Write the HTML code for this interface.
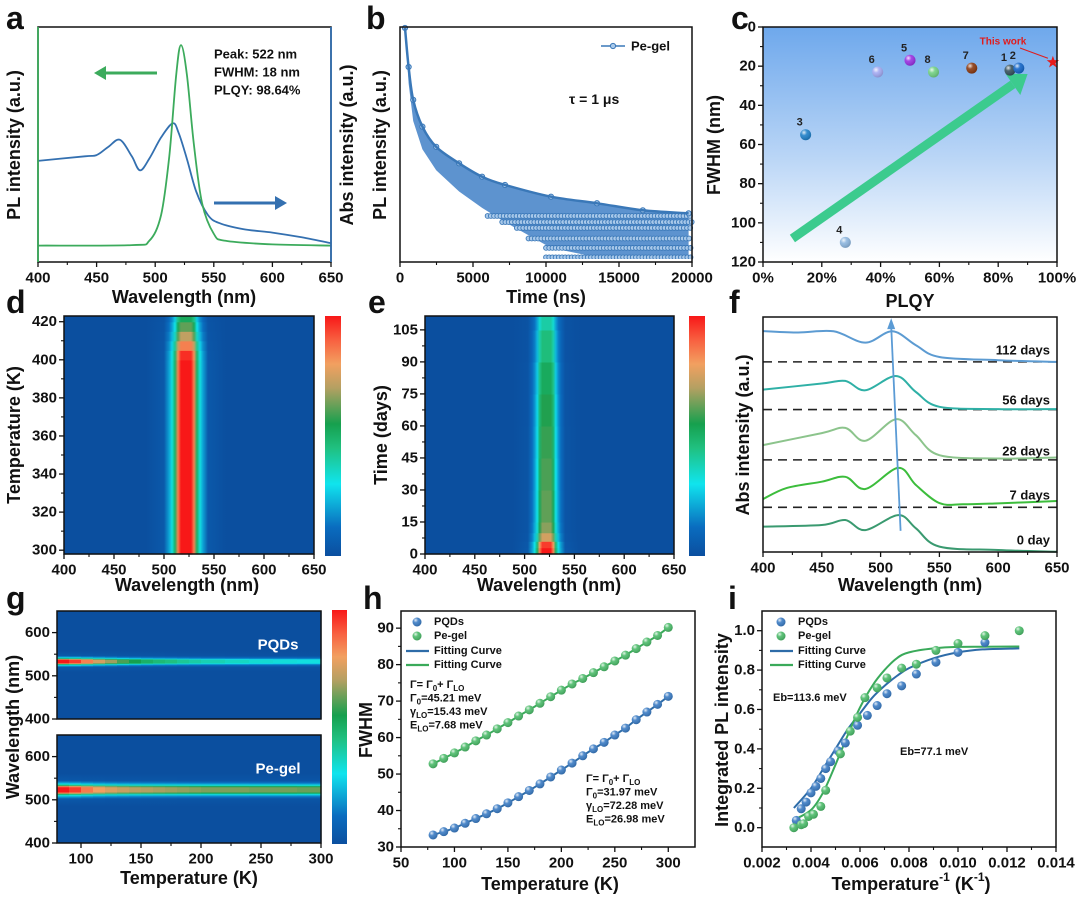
<!DOCTYPE html>
<html><head><meta charset="utf-8"><style>
html,body{margin:0;padding:0;background:#fff;}
svg{display:block;font-family:"Liberation Sans",Arial,sans-serif;}
</style></head><body>
<svg id="fig" width="1080" height="898" viewBox="0 0 1080 898" xmlns="http://www.w3.org/2000/svg">
<defs>
<linearGradient id="cbg" x1="0" y1="0" x2="0" y2="1"><stop offset="0" stop-color="#6ea8ec"/><stop offset="0.55" stop-color="#b9d5f6"/><stop offset="1" stop-color="#ffffff"/></linearGradient>
<radialGradient id="shine" cx="0.35" cy="0.3" r="0.7"><stop offset="0" stop-color="#fff" stop-opacity="0.85"/><stop offset="0.4" stop-color="#fff" stop-opacity="0.1"/><stop offset="1" stop-color="#000" stop-opacity="0.15"/></radialGradient>
</defs>
</svg>
<script>
// ---------- DATA ----------
// panel a
const aAbsWl = [400,440,450,460,470,480,487,495,505,515,520,527,535,545,555,575,600,625,650];
const aAbsVal = [0.43,0.45,0.455,0.49,0.52,0.45,0.39,0.44,0.53,0.59,0.55,0.44,0.30,0.20,0.165,0.14,0.125,0.105,0.08];
const aPlWl = [400,480,495,505,512,518,522,527,533,540,550,560,600,650];
const aPlVal = [0.07,0.072,0.09,0.2,0.45,0.8,0.923,0.8,0.5,0.25,0.12,0.09,0.075,0.07];
const aXTicks = [400,450,500,550,600,650];
// panel b
const bTimes = [340,590,905,1535,2480,4050,5620,7190,10340,13490,16630,19770];
const bUpper = [0.996,0.83,0.69,0.576,0.49,0.42,0.363,0.328,0.278,0.25,0.22,0.207];
const bLower = [0.99,0.76,0.6,0.48,0.39,0.3,0.23,0.17,0.06,0.02,0.02,0.02];
const bTailLevels = [0.196,0.17,0.145,0.1,0.06,0.02];
const bTailStart = [6000,7000,8000,8800,10000,10000];
const bXTicks = [0,5000,10000,15000,20000];
// panel c
const cLabels = ['1','2','3','4','5','6','7','8'];
const cPlqy = [84,87,14.5,28,50,39,71,58];
const cFwhm = [22,21,55,110,17,23,21,23];
const cColors = ['#36525e','#1466c8','#1f80c8','#8db6de','#9a32e2','#a4aaf2','#8a3a12','#72d084'];
const cThisWork = [98.6,18];
const cArrow = [[10,108],[90,24]];
const cXTicks = [0,20,40,60,80,100];
const cYTicks = [0,20,40,60,80,100,120];
// panel d
const dTemps = [298,310,320,330,340,350,360,370,380,390,395,400,405,410,415,420,423];
const dPeak = [1,1,1,1,1,1,1,1,1,1,1,0.97,0.85,0.72,0.62,0.52,0.45];
const dYTicks = [300,320,340,360,380,400,420];
// panel e
const eDays = [0,3,6,10,15,30,45,60,75,90,105,111.5];
const ePeak = [1,0.95,0.75,0.66,0.62,0.6,0.58,0.56,0.52,0.46,0.4,0.38];
const eYTicks = [0,15,30,45,60,75,90,105];
// shared spectral profile (offset nm -> relative intensity)
const profOff = [-40,-22,-17,-14,-11,-8,-5,0,5,8,11,14,17,22,40];
const profVal = [0,0.04,0.2,0.32,0.5,0.85,1,1,1,0.85,0.5,0.32,0.2,0.04,0];
// panel f
const fSeriesNames = ['0 day','7 days','28 days','56 days','112 days'];
const fWl0 = [400,450,470,487,515,530,550,600,650];
const fV0 = [10.8,11.5,13.6,9.3,15.7,10.1,2.3,0.85,0.1];
const fWl7 = [400,420,450,470,487,515,530,550,570,600,650];
const fV7 = [22.5,27.2,29.9,32,26.8,35.8,28.5,20.8,20.3,20.7,21.7];
const fWl28 = [400,450,470,487,513,530,550,600,650];
const fV28 = [45.5,50.6,52.8,47.3,56.5,49.7,41.2,39.8,40.2];
const fWl56 = [400,450,470,487,513,530,550,600,650];
const fV56 = [69.1,71.7,72.8,68.8,74.9,68.1,61.8,60.8,60.8];
const fWl112 = [400,430,460,487,510,530,550,600,650];
const fV112 = [94,93.4,93.9,89.1,93.9,88,83,81.6,80.9];
const fBaselines = [19,39.2,60.6,80.9];
const fColors = ['#3a9a70','#3cbd3c','#8cc48c','#2fb0a6','#5c9bd2'];
const fArrow = [[517,9],[509,99.5]];
// panel g
const gTemps = [80,90,100,110,120,130,140,150,160,170,180,190,200,220,240,260,280,300];
const gPqdPeak = [1,0.95,0.85,0.75,0.68,0.6,0.55,0.5,0.47,0.45,0.42,0.4,0.38,0.36,0.34,0.33,0.32,0.32];
const gGelPeak = [1,0.95,0.86,0.8,0.76,0.73,0.71,0.7,0.69,0.68,0.67,0.66,0.65,0.65,0.64,0.64,0.63,0.63];
const gXTicks = [100,150,200,250,300];
// panel h
const hTemps = [80,90,100,110,120,130,140,150,160,170,180,190,200,210,220,230,240,250,260,270,280,290,300];
const hPqd = [33.3,34.2,35.2,36.5,37.8,39.1,40.5,42.1,43.8,45.5,47.3,49.2,51.1,53.0,55.0,56.9,58.7,60.7,62.6,64.9,67.0,69.1,71.3];
const hGel = [52.8,54.3,55.8,57.4,59.1,60.7,62.4,64.1,65.9,67.6,69.4,71.2,73.0,74.7,76.2,77.8,79.4,81.0,82.6,84.4,86.2,88.0,90.2];
const hXTicks = [50,100,150,200,250,300];
const hYTicks = [30,40,50,60,70,80,90];
// panel i
const iPqdX = [0.0034,0.0036,0.0038,0.004,0.0042,0.0044,0.0046,0.0048,0.0051,0.0054,0.0059,0.0063,0.0067,0.0071,0.0077,0.0083,0.0091,0.01,0.0111];
const iPqdY = [0.037,0.096,0.13,0.177,0.21,0.25,0.30,0.335,0.39,0.43,0.52,0.57,0.62,0.68,0.72,0.78,0.84,0.89,0.94];
const iGelX = [0.0033,0.0036,0.0037,0.0039,0.0041,0.0044,0.0046,0.0052,0.0056,0.0059,0.0062,0.0067,0.0071,0.0077,0.0083,0.0091,0.01,0.0111,0.0125];
const iGelY = [0.0,0.015,0.02,0.057,0.068,0.108,0.19,0.375,0.49,0.56,0.66,0.71,0.76,0.81,0.83,0.90,0.935,0.975,1.0];
const iFitX = [0.0033,0.004,0.0045,0.005,0.0055,0.006,0.0065,0.007,0.0075,0.008,0.009,0.01,0.011,0.0125];
const iFitPqd = [0.10,0.2,0.3,0.4,0.5,0.58,0.66,0.72,0.77,0.81,0.86,0.89,0.905,0.91];
const iFitGel = [0.04,0.09,0.18,0.32,0.47,0.61,0.72,0.80,0.86,0.89,0.91,0.918,0.919,0.92];
const iXTicks = [0.002,0.004,0.006,0.008,0.010,0.012,0.014];
const iYTicks = [0.0,0.2,0.4,0.6,0.8,1.0];
// colormap stops
const cmapPos = [0,0.12,0.3,0.45,0.55,0.7,0.8,0.9,1];
const cmapCol = ['#0b4f9f','#0a6cbf','#10e4ee','#20c080','#16a04e','#b4a062','#f2a060','#f86040','#f81818'];

// ---------- HELPERS ----------
const NS='http://www.w3.org/2000/svg';
const svg=document.getElementById('fig');
const defs=svg.querySelector('defs');
function el(tag,attrs,name,parent){
  const e=document.createElementNS(NS,tag);
  for(const k in attrs) e.setAttribute(k,attrs[k]);
  
  
  (parent||svg).appendChild(e);
  return e;
}
function txt(x,y,s,o,name,parent){
  o=o||{};
  const a={x:x,y:y,'font-size':o.size||15,'font-weight':o.weight||'bold',fill:o.fill||'#111','text-anchor':o.anchor||'middle','dominant-baseline':'central'};
  if(o.rot){a.transform='rotate('+o.rot+' '+x+' '+y+')';}
  const t=el('text',a,name,parent);
  t.textContent=s;
  return t;
}
function lin(d0,d1,r0,r1){return v=>r0+(v-d0)/(d1-d0)*(r1-r0);}
function smooth(pts){
  let d='M'+pts[0][0].toFixed(1)+','+pts[0][1].toFixed(1);
  for(let i=0;i<pts.length-1;i++){
    const p0=pts[i-1]||pts[i],p1=pts[i],p2=pts[i+1],p3=pts[i+2]||p2;
    const c1=[p1[0]+(p2[0]-p0[0])/6,p1[1]+(p2[1]-p0[1])/6];
    const c2=[p2[0]-(p3[0]-p1[0])/6,p2[1]-(p3[1]-p1[1])/6];
    d+=' C'+c1[0].toFixed(1)+','+c1[1].toFixed(1)+' '+c2[0].toFixed(1)+','+c2[1].toFixed(1)+' '+p2[0].toFixed(1)+','+p2[1].toFixed(1);
  }
  return d;
}
function hex(c){return [parseInt(c.slice(1,3),16),parseInt(c.slice(3,5),16),parseInt(c.slice(5,7),16)];}
function cmap(v){
  v=Math.max(0,Math.min(1,v));
  for(let i=0;i<cmapPos.length-1;i++){
    if(v<=cmapPos[i+1]){
      const t=(v-cmapPos[i])/(cmapPos[i+1]-cmapPos[i]);
      const a=hex(cmapCol[i]),b=hex(cmapCol[i+1]);
      return 'rgb('+a.map((x,j)=>Math.round(x+(b[j]-x)*t)).join(',')+')';
    }
  }
  return cmapCol[cmapCol.length-1];
}
let gid=0;
function profileGradient(horizontal,center,scale,peak,pos){
  const id='pg'+(gid++);
  const g=el('linearGradient',{id:id,gradientUnits:'userSpaceOnUse',x1:horizontal?pos(center-60):0,x2:horizontal?pos(center+60):0,y1:horizontal?0:pos(center-60),y2:horizontal?0:pos(center+60)},'profile-gradient',defs);
  for(let i=0;i<profOff.length;i++){
    const o=(profOff[i]*scale+60)/120;
    el('stop',{offset:o.toFixed(4),'stop-color':cmap(peak*profVal[i])},'gradient-stop',g);
  }
  return 'url(#'+id+')';
}
function frame(b,name){el('rect',{x:b.x0,y:b.y0,width:b.x1-b.x0,height:b.y1-b.y0,fill:'none',stroke:'#111','stroke-width':1.5},name);}
function xAxis(b,sx,ticks,fmt,minor,name){
  ticks.forEach((t,i)=>{
    const x=sx(t);
    el('line',{x1:x,x2:x,y1:b.y1,y2:b.y1+5,stroke:'#111','stroke-width':1.3},name+'-tick');
    txt(x,b.y1+16,fmt?fmt(t):String(t),{size:15},name+'-label');
    if(minor&&i<ticks.length-1){const xm=sx((t+ticks[i+1])/2);el('line',{x1:xm,x2:xm,y1:b.y1,y2:b.y1+3,stroke:'#111','stroke-width':1.1},name+'-minor-tick');}
  });
}
function yAxis(b,sy,ticks,fmt,minor,name){
  ticks.forEach((t,i)=>{
    const y=sy(t);
    el('line',{x1:b.x0-5,x2:b.x0,y1:y,y2:y,stroke:'#111','stroke-width':1.3},name+'-tick');
    txt(b.x0-7,y,fmt?fmt(t):String(t),{size:15,anchor:'end'},name+'-label');
    if(minor&&i<ticks.length-1){const ym=sy((t+ticks[i+1])/2);el('line',{x1:b.x0-3,x2:b.x0,y1:ym,y2:ym,stroke:'#111','stroke-width':1.1},name+'-minor-tick');}
  });
}
function ball(x,y,r,col,name){
  el('circle',{cx:x,cy:y,r:r,fill:col},name);
  el('circle',{cx:x,cy:y,r:r,fill:'url(#shine)'},name+'-highlight');
}
function letter(x,y,s){txt(x,y,s,{size:32,anchor:'start'},'panel-label-'+s);}

// ---------- PANEL A ----------
(function(){
  const b={x0:38,x1:331,y0:27,y1:262};
  const sx=lin(400,650,b.x0,b.x1), sy=lin(0,1,b.y1,b.y0);
  el('path',{d:smooth(aAbsWl.map((w,i)=>[sx(w),sy(aAbsVal[i])])),fill:'none',stroke:'#3470b0','stroke-width':1.8},'abs-curve');
  el('path',{d:smooth(aPlWl.map((w,i)=>[sx(w),sy(aPlVal[i])])),fill:'none',stroke:'#3cab5c','stroke-width':1.8},'pl-curve');
  frame(b,'panel-a-frame');
  el('line',{x1:b.x0,x2:b.x0,y1:b.y0,y2:b.y1,stroke:'#3cab5c','stroke-width':1.8},'left-axis-green');
  el('line',{x1:b.x1,x2:b.x1,y1:b.y0,y2:b.y1,stroke:'#3470b0','stroke-width':1.8},'right-axis-blue');
  xAxis(b,sx,aXTicks,null,true,'a-x-axis');
  txt(184,297,'Wavelength (nm)',{size:18},'a-x-title');
  txt(14,145,'PL intensity (a.u.)',{size:18,rot:-90},'a-y-title-left');
  txt(347,145,'Abs intensity (a.u.)',{size:18,rot:-90},'a-y-title-right');
  el('line',{x1:157,y1:73,x2:104,y2:73,stroke:'#3cab5c','stroke-width':3},'pl-arrow-shaft');
  el('polygon',{points:'94,73 106,66 106,80',fill:'#3cab5c'},'pl-arrow-head');
  el('line',{x1:214,y1:203,x2:277,y2:203,stroke:'#3470b0','stroke-width':3},'abs-arrow-shaft');
  el('polygon',{points:'287,203 275,196 275,210',fill:'#3470b0'},'abs-arrow-head');
  txt(214,54,'Peak: 522 nm',{size:13,anchor:'start'},'peak-annotation');
  txt(214,72,'FWHM: 18 nm',{size:13,anchor:'start'},'fwhm-annotation');
  txt(214,90,'PLQY: 98.64%',{size:13,anchor:'start'},'plqy-annotation');
  letter(6,18,'a');
})();

// ---------- PANEL B ----------
(function(){
  const b={x0:400,x1:692,y0:27,y1:262};
  const sx=lin(0,20000,b.x0,b.x1), sy=lin(0,1,b.y1,b.y0);
  const up=bTimes.map((t,i)=>[sx(t),sy(bUpper[i])]);
  const lo=bTimes.map((t,i)=>[sx(t),sy(bLower[i])]).reverse();
  el('path',{d:smooth(up)+' L'+lo.map(p=>p[0].toFixed(1)+','+p[1].toFixed(1)).join(' L')+' Z',fill:'#5d93cf'},'decay-band');
  bTailLevels.forEach((lv,k)=>{
    for(let t=bTailStart[k];t<=20000;t+=220){
      el('circle',{cx:sx(t),cy:sy(lv),r:2.4,fill:'#a9c9ea',stroke:'#3a78b8','stroke-width':0.9},'tail-marker');
    }
  });
  bTimes.forEach((t,i)=>{
    el('circle',{cx:sx(t),cy:sy(bUpper[i]),r:2.6,fill:'#a9c9ea',stroke:'#3a78b8','stroke-width':1},'decay-marker');
  });
  el('path',{d:smooth(up),fill:'none',stroke:'#3a78b8','stroke-width':2.5},'decay-envelope');
  el('rect',{x:b.x0,y:b.y1-3,width:b.x1-b.x0,height:3,fill:'#fff'},'axis-mask');
  frame(b,'panel-b-frame');
  xAxis(b,sx,bXTicks,null,true,'b-x-axis');
  txt(546,297,'Time (ns)',{size:18},'b-x-title');
  txt(380,145,'PL intensity (a.u.)',{size:18,rot:-90},'b-y-title');
  el('line',{x1:601,x2:625,y1:46,y2:46,stroke:'#3a78b8','stroke-width':1.5},'legend-line');
  el('circle',{cx:613,cy:46,r:2.6,fill:'#a9c9ea',stroke:'#3a78b8'},'legend-marker');
  txt(631,46,'Pe-gel',{size:13,anchor:'start'},'legend-label');
  txt(569,99,'τ = 1 μs',{size:14,anchor:'start'},'lifetime-annotation');
  letter(366,18,'b');
})();

// ---------- PANEL C ----------
(function(){
  const b={x0:763,x1:1057,y0:27,y1:262};
  const sx=lin(0,100,b.x0,b.x1), sy=lin(0,120,b.y0,b.y1);
  el('rect',{x:b.x0,y:b.y0,width:b.x1-b.x0,height:b.y1-b.y0,fill:'url(#cbg)'},'plot-background');
  const a0=[sx(cArrow[0][0]),sy(cArrow[0][1])], a1=[sx(cArrow[1][0]),sy(cArrow[1][1])];
  const ang=Math.atan2(a1[1]-a0[1],a1[0]-a0[0]);
  const sh=[a1[0]-18*Math.cos(ang),a1[1]-18*Math.sin(ang)];
  el('line',{x1:a0[0],y1:a0[1],x2:sh[0],y2:sh[1],stroke:'#3ccb8e','stroke-width':9},'trend-arrow-shaft');
  const pr=[Math.sin(ang)*13,-Math.cos(ang)*13];
  el('polygon',{points:a1[0]+','+a1[1]+' '+(sh[0]+pr[0])+','+(sh[1]+pr[1])+' '+(sh[0]-pr[0])+','+(sh[1]-pr[1]),fill:'#3ccb8e'},'trend-arrow-head');
  cLabels.forEach((l,i)=>{
    ball(sx(cPlqy[i]),sy(cFwhm[i]),5.5,cColors[i],'reference-point-'+l);
    txt(sx(cPlqy[i])-6,sy(cFwhm[i])-12,l,{size:11,fill:'#222'},'reference-label-'+l);
  });
  const stx=sx(cThisWork[0]),sty=sy(cThisWork[1]);
  let pts=[];for(let k=0;k<10;k++){const r=k%2?2.6:6.5,an=-Math.PI/2+k*Math.PI/5;pts.push((stx+r*Math.cos(an)).toFixed(1)+','+(sty+r*Math.sin(an)).toFixed(1));}
  el('polygon',{points:pts.join(' '),fill:'#e51a1a'},'this-work-star');
  txt(1003,42,'This work',{size:10,fill:'#e01c1c'},'this-work-label');
  el('line',{x1:1020,y1:48,x2:stx-5,y2:sty-4,stroke:'#e01c1c','stroke-width':1},'this-work-pointer');
  frame(b,'panel-c-frame');
  xAxis(b,sx,cXTicks,v=>v+'%',true,'c-x-axis');
  yAxis(b,sy,cYTicks,null,true,'c-y-axis');
  txt(910,301,'PLQY',{size:18},'c-x-title');
  txt(714,145,'FWHM (nm)',{size:18,rot:-90},'c-y-title');
  letter(731,18,'c');
})();

// ---------- PANEL D ----------
function colorbar(x0,x1,y0,y1,name){
  const id='cb'+(gid++);
  const g=el('linearGradient',{id:id,x1:0,y1:1,x2:0,y2:0},'colorbar-gradient',defs);
  cmapPos.forEach((p,i)=>el('stop',{offset:p,'stop-color':cmapCol[i]},'colorbar-stop',g));
  el('rect',{x:x0,y:y0,width:x1-x0,height:y1-y0,fill:'url(#'+id+')'},name);
}
(function(){
  const b={x0:64,x1:314,y0:316,y1:554};
  const sx=lin(400,650,b.x0,b.x1), sy=lin(298,423,b.y1,b.y0);
  for(let i=0;i<dTemps.length-1;i++){
    el('rect',{x:b.x0,y:sy(dTemps[i+1]),width:b.x1-b.x0,height:sy(dTemps[i])-sy(dTemps[i+1])+0.6,fill:profileGradient(true,522,1,dPeak[i],sx)},'heatmap-row');
  }
  frame(b,'panel-d-frame');
  xAxis(b,sx,aXTicks,null,true,'d-x-axis');
  yAxis(b,sy,dYTicks,null,true,'d-y-axis');
  colorbar(325,341,316,556,'d-colorbar');
  txt(187,585,'Wavelength (nm)',{size:18},'d-x-title');
  txt(14,435,'Temperature (K)',{size:18,rot:-90},'d-y-title');
  letter(6,302,'d');
})();

// ---------- PANEL E ----------
(function(){
  const b={x0:425,x1:674,y0:316,y1:554};
  const sx=lin(400,650,b.x0,b.x1), sy=lin(0,111.5,b.y1,b.y0);
  for(let i=0;i<eDays.length-1;i++){
    el('rect',{x:b.x0,y:sy(eDays[i+1]),width:b.x1-b.x0,height:sy(eDays[i])-sy(eDays[i+1])+0.6,fill:profileGradient(true,522,0.85,ePeak[i],sx)},'heatmap-row');
  }
  frame(b,'panel-e-frame');
  xAxis(b,sx,aXTicks,null,true,'e-x-axis');
  yAxis(b,sy,eYTicks,null,true,'e-y-axis');
  colorbar(689,705,316,556,'e-colorbar');
  txt(549,585,'Wavelength (nm)',{size:18},'e-x-title');
  txt(381,435,'Time (days)',{size:18,rot:-90},'e-y-title');
  letter(368,302,'e');
})();

// ---------- PANEL F ----------
(function(){
  const b={x0:763,x1:1057,y0:317,y1:552};
  const sx=lin(400,650,b.x0,b.x1), sy=lin(0,100,b.y1,b.y0);
  fBaselines.forEach(v=>el('line',{x1:b.x0,x2:b.x1,y1:sy(v),y2:sy(v),stroke:'#222','stroke-width':1.6,'stroke-dasharray':'9,6'},'baseline-dashed'));
  const W=[fWl0,fWl7,fWl28,fWl56,fWl112], V=[fV0,fV7,fV28,fV56,fV112];
  W.forEach((w,k)=>{
    el('path',{d:smooth(w.map((x,i)=>[sx(x),sy(V[k][i])])),fill:'none',stroke:fColors[k],'stroke-width':2},'abs-spectrum-'+fSeriesNames[k].replace(' ','-'));
  });
  const p0=[sx(fArrow[0][0]),sy(fArrow[0][1])],p1=[sx(fArrow[1][0]),sy(fArrow[1][1])];
  el('line',{x1:p0[0],y1:p0[1],x2:p1[0],y2:p1[1]+8,stroke:'#5b9bd5','stroke-width':1.8},'peak-shift-arrow');
  el('polygon',{points:p1[0]+','+p1[1]+' '+(p1[0]-4)+','+(p1[1]+11)+' '+(p1[0]+4)+','+(p1[1]+11),fill:'#5b9bd5'},'peak-shift-arrowhead');
  const ly=[540,495,451,400,350];
  fSeriesNames.forEach((n,k)=>txt(1050,ly[k],n,{size:13,anchor:'end'},'series-label'));
  frame(b,'panel-f-frame');
  xAxis(b,sx,aXTicks,null,true,'f-x-axis');
  txt(910,585,'Wavelength (nm)',{size:18},'f-x-title');
  txt(743,435,'Abs intensity (a.u.)',{size:18,rot:-90},'f-y-title');
  letter(729,302,'f');
})();

// ---------- PANEL G ----------
(function(){
  const x0=57,x1=321;
  const sx=lin(80,300,x0,x1);
  const subs=[{y0:611,y1:719,peak:gPqdPeak,c:533,s:0.6,lab:'PQDs',n:'pqds'},{y0:735,y1:843,peak:gGelPeak,c:523,s:0.95,lab:'Pe-gel',n:'pe-gel'}];
  subs.forEach(p=>{
    const sy=lin(400,650,p.y1,p.y0);
    for(let i=0;i<gTemps.length-1;i++){
      el('rect',{x:sx(gTemps[i]),y:p.y0,width:sx(gTemps[i+1])-sx(gTemps[i])+0.6,height:p.y1-p.y0,fill:profileGradient(false,p.c,p.s,p.peak[i],sy)},'heatmap-column-'+p.n);
    }
    const b={x0:x0,x1:x1,y0:p.y0,y1:p.y1};
    frame(b,'panel-g-frame-'+p.n);
    yAxis(b,sy,[400,500,600],null,true,'g-y-axis-'+p.n);
    txt(278,p.y0+34,p.lab,{size:15,fill:'#fff'},'g-label-'+p.n);
  });
  xAxis({x0:x0,x1:x1,y0:735,y1:843},sx,gXTicks,null,true,'g-x-axis');
  colorbar(332,347,610,844,'g-colorbar');
  txt(189,878,'Temperature (K)',{size:18},'g-x-title');
  txt(13,727,'Wavelength (nm)',{size:18,rot:-90},'g-y-title');
  letter(6,598,'g');
})();

// ---------- PANEL H ----------
function legendBlock(x,y,name){
  ball(x+11,y,4.5,'#3b7cc4',name+'-pqds-marker');
  txt(x+28,y,'PQDs',{size:11,anchor:'start'},name+'-pqds');
  ball(x+11,y+14,4.5,'#4cbb6a',name+'-gel-marker');
  txt(x+28,y+14,'Pe-gel',{size:11,anchor:'start'},name+'-gel');
  el('line',{x1:x,x2:x+23,y1:y+29,y2:y+29,stroke:'#2e6ca8','stroke-width':2.2},name+'-fit-blue');
  txt(x+28,y+29,'Fitting Curve',{size:11,anchor:'start'},name+'-fit-blue-label');
  el('line',{x1:x,x2:x+23,y1:y+43,y2:y+43,stroke:'#3aaa5a','stroke-width':2.2},name+'-fit-green');
  txt(x+28,y+43,'Fitting Curve',{size:11,anchor:'start'},name+'-fit-green-label');
}
function formula(x,y,g0,gl,el0,name){
  const lines=[['Γ= Γ','0','+ Γ','LO'],['Γ','0','='+g0+' meV'],['γ','LO','='+gl+' meV'],['E','LO','='+el0+' meV']];
  lines.forEach((parts,i)=>{
    const t=el('text',{x:x,y:y+i*13.5,'font-size':11,'font-weight':'bold',fill:'#111','dominant-baseline':'central'},name+'-line');
    parts.forEach((p,j)=>{const s=el('tspan',{},name+'-part',t);if(j%2){s.setAttribute('font-size','8');s.setAttribute('dy','3');}else if(j>0){s.setAttribute('dy','-3');}s.textContent=p;});
  });
}
(function(){
  const b={x0:401,x1:695,y0:611,y1:847};
  const sx=lin(50,325,b.x0,b.x1), sy=lin(30,94.7,b.y1,b.y0);
  el('path',{d:smooth(hTemps.map((t,i)=>[sx(t),sy(hPqd[i])])),fill:'none',stroke:'#2e6ca8','stroke-width':2},'pqds-fit-curve');
  el('path',{d:smooth(hTemps.map((t,i)=>[sx(t),sy(hGel[i])])),fill:'none',stroke:'#3aaa5a','stroke-width':2},'pe-gel-fit-curve');
  hTemps.forEach((t,i)=>{ball(sx(t),sy(hPqd[i]),4.5,'#3b7cc4','pqds-point');ball(sx(t),sy(hGel[i]),4.5,'#4cbb6a','pe-gel-point');});
  frame(b,'panel-h-frame');
  xAxis(b,sx,hXTicks,null,true,'h-x-axis');
  yAxis(b,sy,hYTicks,null,true,'h-y-axis');
  legendBlock(406,622,'h-legend');
  formula(410,685,'45.21','15.43','7.68','h-gel-params');
  formula(586,779,'31.97','72.28','26.98','h-pqd-params');
  txt(550,884,'Temperature (K)',{size:18},'h-x-title');
  txt(366,730,'FWHM',{size:18,rot:-90},'h-y-title');
  letter(363,598,'h');
})();

// ---------- PANEL I ----------
(function(){
  const b={x0:762,x1:1056,y0:611,y1:847};
  const sx=lin(0.002,0.014,b.x0,b.x1), sy=lin(-0.098,1.1,b.y1,b.y0);
  el('path',{d:smooth(iFitX.map((x,i)=>[sx(x),sy(iFitPqd[i])])),fill:'none',stroke:'#2e6ca8','stroke-width':2},'pqds-fit-curve');
  el('path',{d:smooth(iFitX.map((x,i)=>[sx(x),sy(iFitGel[i])])),fill:'none',stroke:'#3aaa5a','stroke-width':2},'pe-gel-fit-curve');
  iPqdX.forEach((x,i)=>ball(sx(x),sy(iPqdY[i]),4.5,'#3b7cc4','pqds-point'));
  iGelX.forEach((x,i)=>ball(sx(x),sy(iGelY[i]),4.5,'#4cbb6a','pe-gel-point'));
  frame(b,'panel-i-frame');
  xAxis(b,sx,iXTicks,v=>v.toFixed(3),true,'i-x-axis');
  yAxis(b,sy,iYTicks,v=>v.toFixed(1),true,'i-y-axis');
  legendBlock(770,622,'i-legend');
  txt(773,698,'Eb=113.6 meV',{size:11,anchor:'start'},'eb-pqds-annotation');
  txt(900,752,'Eb=77.1 meV',{size:11,anchor:'start'},'eb-gel-annotation');
  const t=el('text',{x:911,y:884,'font-size':18,'font-weight':'bold',fill:'#111','text-anchor':'middle','dominant-baseline':'central'},'i-x-title');
  t.innerHTML='Temperature<tspan font-size="12" dy="-7">-1</tspan><tspan dy="7"> (K</tspan><tspan font-size="12" dy="-7">-1</tspan><tspan dy="7">)</tspan>';
  txt(722,730,'Integrated PL intensity',{size:18,rot:-90},'i-y-title');
  letter(728,598,'i');
})();
</script>
</body></html>
